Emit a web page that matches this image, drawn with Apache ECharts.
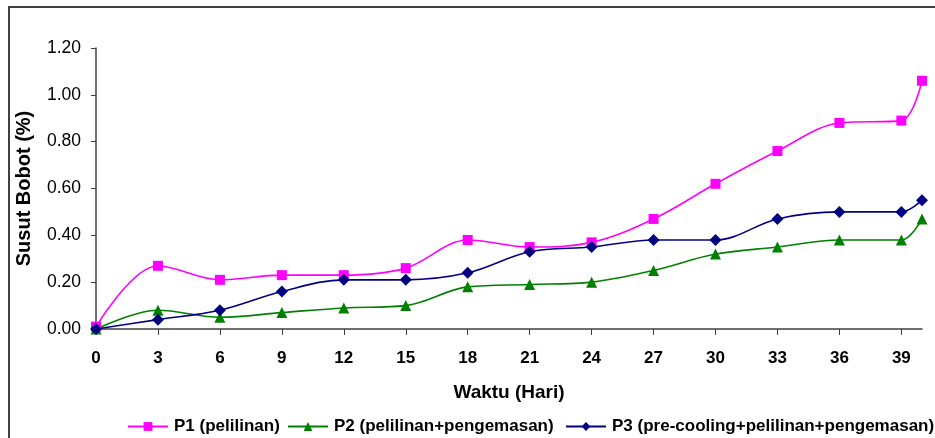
<!DOCTYPE html>
<html>
<head>
<meta charset="utf-8">
<script src="https://cdn.jsdelivr.net/npm/echarts@6/dist/echarts.min.js"></script>
<style>
  html, body { margin: 0; padding: 0; background: #fff; }
  #chart { width: 935px; height: 438px; }
</style>
</head>
<body>
<div id="chart"></div>
<script>
// Days of observation (x) and weight loss in percent for each treatment
const days = [0, 3, 6, 9, 12, 15, 18, 21, 24, 27, 30, 33, 36, 39, 40];
const p1Values = [0.01, 0.27, 0.21, 0.23, 0.23, 0.26, 0.38, 0.35, 0.37, 0.47, 0.62, 0.76, 0.88, 0.89, 1.06];
const p2Values = [0.00, 0.08, 0.05, 0.07, 0.09, 0.10, 0.18, 0.19, 0.20, 0.25, 0.32, 0.35, 0.38, 0.38, 0.47];
const p3Values = [0.00, 0.04, 0.08, 0.16, 0.21, 0.21, 0.24, 0.33, 0.35, 0.38, 0.38, 0.47, 0.50, 0.50, 0.55];
const seriesNames = ['P1 (pelilinan)', 'P2 (pelilinan+pengemasan)', 'P3 (pre-cooling+pelilinan+pengemasan)'];
const xTicks = [0, 3, 6, 9, 12, 15, 18, 21, 24, 27, 30, 33, 36, 39];

const pairs = vals => days.map((d, i) => [d, vals[i]]);

const font = '"Liberation Sans", Arial, sans-serif';
const chart = echarts.init(document.getElementById('chart'), null, { renderer: 'canvas' });

function lineSeries(name, vals, color, symbol, size) {
  return {
    name: name,
    type: 'line',
    data: pairs(vals),
    smooth: 0.35,
    symbol: symbol,
    symbolSize: size,
    showSymbol: true,
    lineStyle: { color: color, width: 1.6 },
    itemStyle: { color: color },
    emphasis: { disabled: true },
    z: 3
  };
}

// One legend block per series so the row runs past the right edge without wrapping
const legendLefts = [127, 287, 565];
const legends = seriesNames.map((name, i) => ({
  left: legendLefts[i],
  top: 418,
  width: 600,
  itemWidth: 40,
  itemHeight: 11,
  itemGap: 0,
  padding: 0,
  textStyle: { fontFamily: font, fontSize: 17, fontWeight: 'bold', color: '#000', padding: [0, 0, 0, 1] },
  data: [name]
}));

chart.setOption({
  animation: false,
  backgroundColor: '#ffffff',
  graphic: [{
    type: 'rect',
    shape: { x: 9, y: 7, width: 1000, height: 1000 },
    style: { fill: 'none', stroke: '#404040', lineWidth: 2 },
    silent: true,
    z: -1
  }],
  grid: { left: 96, right: 13, top: 48, bottom: 109 },
  xAxis: {
    type: 'value',
    min: 0,
    max: 40,
    interval: 3,
    name: 'Waktu (Hari)',
    nameLocation: 'middle',
    nameGap: 54,
    nameTextStyle: { fontFamily: font, fontSize: 19, fontWeight: 'bold', color: '#000' },
    axisLine: { lineStyle: { color: '#404040', width: 1.5 } },
    axisTick: { show: true, length: 6, inside: false, customValues: xTicks, lineStyle: { color: '#404040' } },
    axisLabel: { customValues: xTicks, fontFamily: font, fontSize: 17, fontWeight: 'bold', color: '#000', margin: 21 },
    splitLine: { show: false }
  },
  yAxis: {
    type: 'value',
    min: 0,
    max: 1.2,
    interval: 0.2,
    name: 'Susut Bobot (%)',
    nameLocation: 'middle',
    nameGap: 62,
    nameTextStyle: { fontFamily: font, fontSize: 20, fontWeight: 'bold', color: '#000' },
    axisLine: { show: true, lineStyle: { color: '#404040', width: 1.5 } },
    axisTick: { show: true, length: 5, inside: false, lineStyle: { color: '#404040' } },
    axisLabel: { fontFamily: font, fontSize: 17.5, color: '#000', margin: 15, formatter: v => v.toFixed(2) },
    splitLine: { show: false }
  },
  legend: legends,
  series: [
    lineSeries(seriesNames[0], p1Values, '#FF00FF', 'rect', 10),
    lineSeries(seriesNames[1], p2Values, '#008000', 'triangle', 11),
    lineSeries(seriesNames[2], p3Values, '#000080', 'diamond', 12)
  ]
});
</script>
</body>
</html>
